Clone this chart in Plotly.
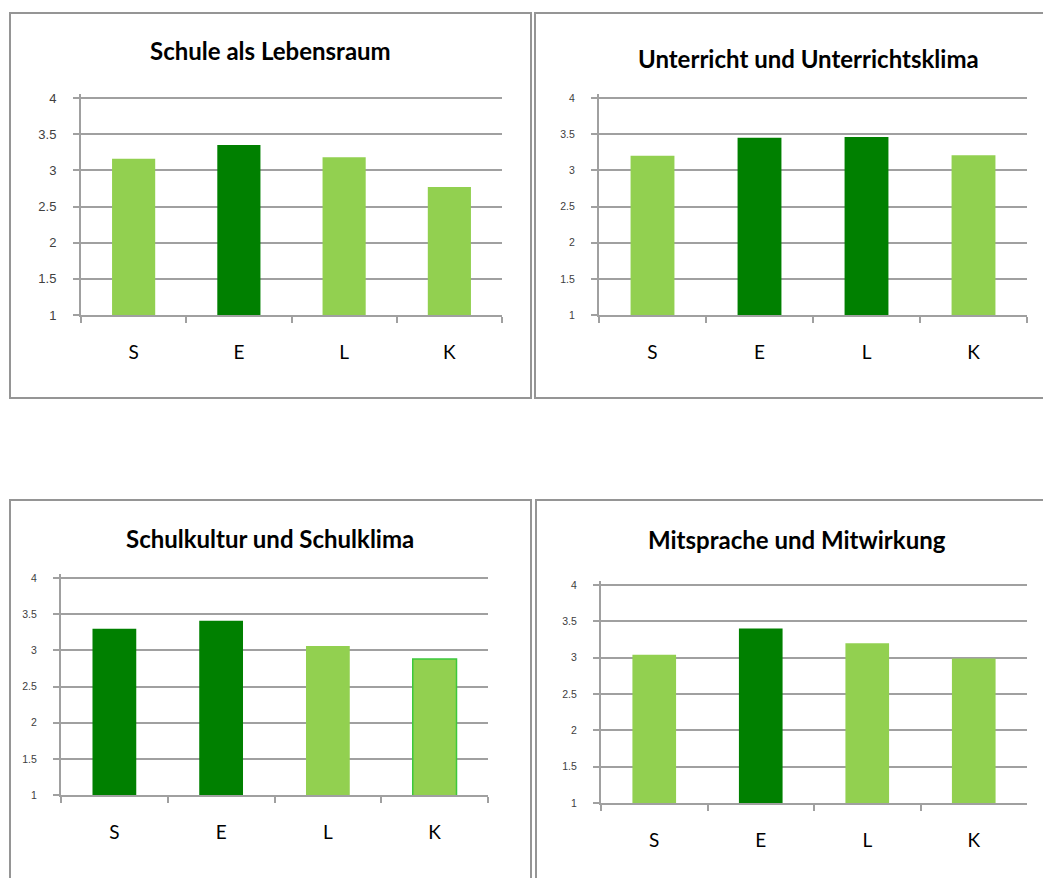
import plotly.graph_objects as go

W, H = 1043, 878

categories = ["S", "E", "L", "K"]
titles = ["Schule als Lebensraum", "Unterricht und Unterrichtsklima",
          "Schulkultur und Schulklima", "Mitsprache und Mitwirkung"]
values_lebensraum = [3.16, 3.35, 3.18, 2.77]
values_unterricht = [3.20, 3.45, 3.46, 3.21]
values_schulkultur = [3.30, 3.41, 3.06, 2.88]
values_mitsprache = [3.04, 3.40, 3.20, 2.99]
# colour class per bar: 1 = dark green (highlighted), 0 = light green
highlight_lebensraum = [0, 1, 0, 0]
highlight_unterricht = [0, 1, 1, 0]
highlight_schulkultur = [1, 1, 0, 0]
highlight_mitsprache = [0, 1, 0, 0]
y_ticks = [1, 1.5, 2, 2.5, 3, 3.5, 4]

LIGHT = "#92D050"
DARK = "#008000"
GRID = "#a0a0a0"
YMAX = 4.05

def px(x):
    return x / W

def py(y):
    return 1 - y / H

panels = [
    dict(vals=values_lebensraum, hl=highlight_lebensraum, title=titles[0],
         plot=(81, 502, 98, 315), tfont=13, title_pos=(270, 50),
         box=(10, 531, 13, 398)),
    dict(vals=values_unterricht, hl=highlight_unterricht, title=titles[1],
         plot=(599, 1027, 98, 315), tfont=10.5, title_pos=(808, 58),
         box=(535, 1050, 13, 398)),
    dict(vals=values_schulkultur, hl=highlight_schulkultur, title=titles[2],
         plot=(61, 488, 578, 795), tfont=10.5, title_pos=(270, 538),
         box=(10, 531, 500, 895)),
    dict(vals=values_mitsprache, hl=highlight_mitsprache, title=titles[3],
         plot=(601, 1027, 585, 803), tfont=10.5, title_pos=(797, 539),
         box=(536, 1050, 500, 895)),
]

fig = go.Figure()
annotations = []
shapes = []
for i, p in enumerate(panels, start=1):
    xa = "x" if i == 1 else f"x{i}"
    ya = "y" if i == 1 else f"y{i}"
    colors = [DARK if h else LIGHT for h in p["hl"]]
    line_colors = list(colors)
    line_widths = [0, 0, 0, 0]
    if i == 3:
        line_colors[3] = "#3cc83c"
        line_widths[3] = 1.5
    fig.add_trace(go.Bar(
        x=categories, y=p["vals"],
        marker=dict(color=colors, line=dict(color=line_colors, width=line_widths)),
        xaxis=xa, yaxis=ya, showlegend=False, hoverinfo="skip",
    ))
    x0, x1, y0, y1 = p["plot"]
    # extend top slightly so the gridline at 4 is kept clear of the plot edge
    ext = (YMAX - 4) / 3 * (y1 - y0)
    xkey = "xaxis" if i == 1 else f"xaxis{i}"
    ykey = "yaxis" if i == 1 else f"yaxis{i}"
    fig.update_layout(**{
        xkey: dict(domain=[px(x0), px(x1)], anchor=ya, type="category",
                   showgrid=False, showline=True, linecolor=GRID, linewidth=2,
                   ticks="outside", tickson="boundaries", ticklen=6,
                   tickcolor=GRID, tickwidth=1.5, automargin=False,
                   tickfont=dict(family="Lato", size=19, color="#000000"),
                   ticklabelstandoff=19, fixedrange=True),
        ykey: dict(domain=[py(y1), py(y0 - ext)], anchor=xa, range=[1, YMAX],
                   tickvals=y_ticks, ticktext=[f"{v:g}" for v in y_ticks],
                   showgrid=True, gridcolor=GRID, gridwidth=2,
                   showline=True, linecolor=GRID, linewidth=2,
                   ticks="outside", ticklen=6, tickcolor=GRID, tickwidth=1.5,
                   automargin=False,
                   tickfont=dict(family="Liberation Sans", size=p["tfont"], color="#404040"),
                   ticklabelstandoff=14, zeroline=False, fixedrange=True),
    })
    tx, ty = p["title_pos"]
    annotations.append(dict(text=f"<b>{p['title']}</b>", x=px(tx), y=py(ty),
                            xref="paper", yref="paper", showarrow=False,
                            xanchor="center", yanchor="middle",
                            font=dict(family="Lato", size=24, color="#000000")))
    bx0, bx1, by0, by1 = p["box"]
    shapes.append(dict(type="rect", xref="paper", yref="paper",
                       x0=px(bx0), x1=px(bx1), y0=py(by1), y1=py(by0),
                       line=dict(color="#959595", width=2), layer="below"))

fig.update_layout(template="none", width=W, height=H,
                  margin=dict(l=0, r=0, t=0, b=0, autoexpand=False),
                  paper_bgcolor="white", plot_bgcolor="white",
                  bargap=0.59, annotations=annotations, shapes=shapes)

fig.write_html("out.html")
